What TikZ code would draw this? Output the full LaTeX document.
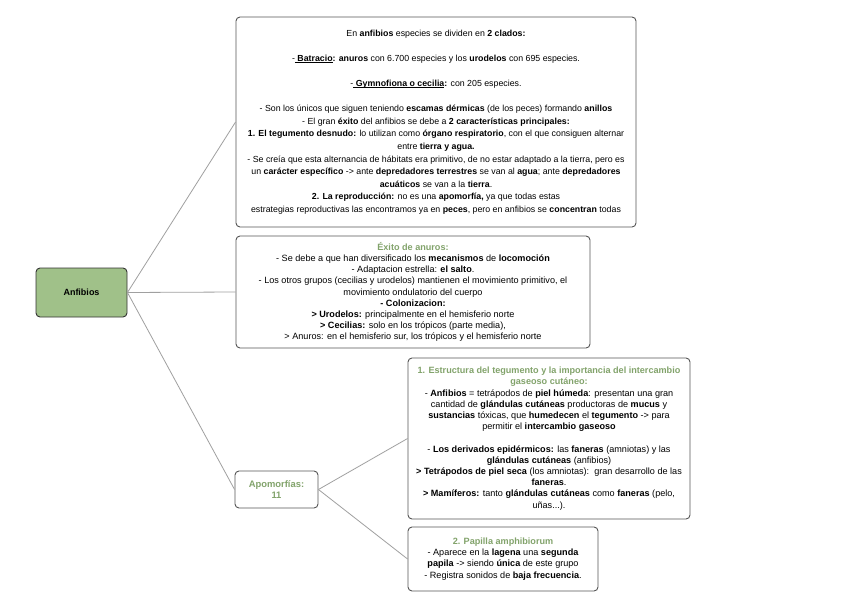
\documentclass[tikz,border=0pt]{standalone}
\usepackage{fontspec}
\setmainfont{Liberation Sans}
\definecolor{grn}{HTML}{82A36B}
\definecolor{fillg}{HTML}{A0C189}
\definecolor{bord}{HTML}{555555}
\definecolor{conncol}{HTML}{A0A0A0}
\newcommand\ulbf[1]{\setbox0\hbox{\textbf{#1}}\rlap{\rule[-1.4pt]{\wd0}{0.7pt}}\box0}
\begin{document}
\begin{tikzpicture}[x=1pt,y=-1pt,
  box/.style={draw=bord, line width=0.9pt, rounded corners=4pt, fill=white, align=center, inner sep=0pt, font=\fontsize{9.1}{11.2}\selectfont},
  bigbox/.style={box, font=\fontsize{8.8}{12.6}\selectfont},
  conn/.style={draw=conncol, line width=0.8pt}]
\useasboundingbox (0,0) rectangle (848,599);
\fill[white] (0,0) rectangle (848,599);

\node[box, fill=fillg, draw=black!80, minimum width=91pt, minimum height=49pt, font=\fontsize{9}{11}\selectfont\bfseries] (anf) at (81.5,292.5) {Anfibios};

\node[bigbox, minimum width=400pt, minimum height=210pt] (top) at (436,122) {%
En \textbf{anfibios} especies se dividen en \textbf{2 clados:}\\[12.6pt]
-\ulbf{\ Batracio}\textbf{:} \textbf{anuros} con 6.700 especies y los \textbf{urodelos} con 695 especies.\\[12.6pt]
-\ulbf{\ Gymnofiona o cecilia}\textbf{:} con 205 especies.\\[12.6pt]
- Son los únicos que siguen teniendo \textbf{escamas dérmicas} (de los peces) formando \textbf{anillos}\\
- El gran \textbf{éxito} del anfibios se debe a \textbf{2 características principales:}\\
\textbf{1. El tegumento desnudo:} lo utilizan como \textbf{órgano respiratorio}, con el que consiguen alternar\\
entre \textbf{tierra y agua.}\\
- Se creía que esta alternancia de hábitats era primitivo, de no estar adaptado a la tierra, pero es\\
un \textbf{carácter específico} -> ante \textbf{depredadores terrestres} se van al \textbf{agua}; ante \textbf{depredadores}\\
\textbf{acuáticos} se van a la \textbf{tierra}.\\
\textbf{2. La reproducción:} no es una \textbf{apomorfía,} ya que todas estas\\
estrategias reproductivas las encontramos ya en \textbf{peces}, pero en anfibios se \textbf{concentran} todas};

\node[box, minimum width=354pt, minimum height=112pt] (mid) at (413,292) {%
\textcolor{grn}{\textbf{Éxito de anuros:}}\\
- Se debe a que han diversificado los \textbf{mecanismos} de \textbf{locomoción}\\
- Adaptacion estrella: \textbf{el salto}.\\
- Los otros grupos (cecilias y urodelos) mantienen el movimiento primitivo, el\\
movimiento ondulatorio del cuerpo\\
\textbf{- Colonizacion:}\\
\textbf{> Urodelos:} principalmente en el hemisferio norte\\
\textbf{> Cecilias:} solo en los trópicos (parte media),\\
> Anuros: en el hemisferio sur, los trópicos y el hemisferio norte};

\node[box, minimum width=83pt, minimum height=37pt, font=\fontsize{9.4}{11.6}\selectfont] (apo) at (276.5,489.5) {%
\textcolor{grn}{\textbf{Apomorfías:}}\\\textcolor{grn}{\textbf{11}}};

\node[box, minimum width=282pt, minimum height=161pt] (b1) at (549,438.5) {%
\textcolor{grn}{\textbf{1. Estructura del tegumento y la importancia del intercambio}}\\
\textcolor{grn}{\textbf{gaseoso cutáneo:}}\\
- \textbf{Anfibios} = tetrápodos de \textbf{piel húmeda}: presentan una gran\\
cantidad de \textbf{glándulas cutáneas} productoras de \textbf{mucus} y\\
\textbf{sustancias} tóxicas, que \textbf{humedecen} el \textbf{tegumento} -> para\\
permitir el \textbf{intercambio gaseoso}\\[11.2pt]
- \textbf{Los derivados epidérmicos:} las \textbf{faneras} (amniotas) y las\\
\textbf{glándulas cutáneas} (anfibios)\\
\textbf{> Tetrápodos de piel seca} (los amniotas):\ \ gran desarrollo de las\\
\textbf{faneras}.\\
\textbf{> Mamíferos:} tanto \textbf{glándulas cutáneas} como \textbf{faneras} (pelo,\\
uñas...).};

\node[box, minimum width=190pt, minimum height=64pt] (b2) at (503,559) {%
\textcolor{grn}{\textbf{2. Papilla amphibiorum}}\\
- Aparece en la \textbf{lagena} una \textbf{segunda}\\
\textbf{papila} -> siendo \textbf{única} de este grupo\\
- Registra sonidos de \textbf{baja frecuencia}.};

\draw[conn] (anf.east) -- (top.west);
\draw[conn] (anf.east) -- (mid.west);
\draw[conn] (anf.east) -- (apo.west);
\draw[conn] (apo.east) -- (b1.west);
\draw[conn] (apo.east) -- (b2.west);
\end{tikzpicture}
\end{document}
